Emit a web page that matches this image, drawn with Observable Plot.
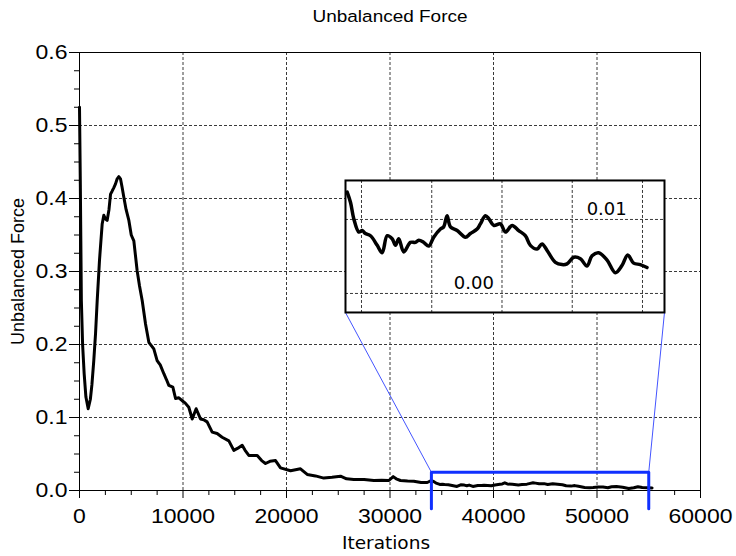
<!DOCTYPE html>
<html>
<head>
<meta charset="utf-8">
<script src="https://cdn.jsdelivr.net/npm/d3@7"></script>
<script src="https://cdn.jsdelivr.net/npm/@observablehq/plot@0.6"></script>
<style>
  html, body { margin: 0; padding: 0; background: white; }
  #chart { width: 736px; height: 556px; }
</style>
</head>
<body>
<div id="chart"></div>
<script>
// ---- data ----
const headIterations = [0, 80, 180, 300, 450, 620, 840, 1050, 1200, 1380, 1550, 1710, 1930, 2190, 2350, 2500, 2670, 2850, 3000, 3150, 3320, 3480, 3640, 3800, 3960, 4120, 4280, 4500, 4770, 5000, 5250, 5570, 5800, 6060, 6380, 6700, 7180, 7500, 7800, 8150, 8400, 8630, 9020, 9280, 9600, 9920, 10200, 10560, 10890, 11270, 11690, 12000, 12330, 12820, 13300, 13780, 14430, 14910, 15300, 15720, 16000, 16360, 17170, 17600, 17970, 18400, 18940, 19420, 20390, 21350, 22000, 22800, 23600, 24400, 25220, 25800, 26500, 27500, 28440, 29200, 29890, 30310, 30600, 31010, 31700, 32300, 33000, 33600];
const headValues     = [0.525, 0.42, 0.26, 0.2, 0.16, 0.128, 0.112, 0.125, 0.145, 0.178, 0.215, 0.26, 0.315, 0.365, 0.377, 0.372, 0.37, 0.385, 0.406, 0.41, 0.415, 0.42, 0.427, 0.43, 0.427, 0.415, 0.402, 0.385, 0.37, 0.35, 0.342, 0.301, 0.28, 0.26, 0.228, 0.203, 0.194, 0.178, 0.172, 0.16, 0.152, 0.144, 0.1415, 0.126, 0.127, 0.123, 0.12, 0.114, 0.098, 0.112, 0.098, 0.097, 0.094, 0.08, 0.078, 0.073, 0.068, 0.055, 0.058, 0.062, 0.055, 0.048, 0.048, 0.041, 0.037, 0.04, 0.041, 0.031, 0.027, 0.0297, 0.022, 0.02, 0.017, 0.018, 0.0196, 0.016, 0.015, 0.015, 0.0137, 0.014, 0.0137, 0.019, 0.016, 0.0137, 0.013, 0.0128, 0.011, 0.011];
const tailIterations = [33980, 34220, 34450, 34810, 35050, 35280, 35640, 36120, 36470, 36830, 37180, 37420, 37650, 38010, 38480, 38840, 39080, 39430, 39790, 40140, 40620, 40850, 41090, 41330, 41810, 42400, 42750, 43230, 43460, 43820, 44060, 44410, 44890, 45240, 45720, 46190, 46660, 47020, 47500, 47850, 48210, 48800, 49280, 49630, 50110, 50580, 51050, 51410, 51880, 52480, 53070, 53550, 53950, 54370, 54840, 55320];
const tailValues     = [0.0137, 0.0123, 0.0101, 0.0083, 0.0085, 0.0081, 0.0078, 0.0065, 0.0055, 0.0078, 0.0074, 0.0065, 0.0074, 0.0056, 0.0069, 0.0069, 0.0072, 0.0069, 0.0064, 0.0076, 0.0087, 0.009, 0.0105, 0.009, 0.0085, 0.0076, 0.0081, 0.0087, 0.0094, 0.0105, 0.0101, 0.0092, 0.0094, 0.0083, 0.0092, 0.0085, 0.0078, 0.0065, 0.006, 0.0067, 0.0058, 0.0042, 0.0039, 0.004, 0.0049, 0.0047, 0.0037, 0.0051, 0.0055, 0.0045, 0.0028, 0.0038, 0.0052, 0.0041, 0.0039, 0.0035];

const xTicks = [0, 10000, 20000, 30000, 40000, 50000, 60000];
const xMinorTicks = [2500, 5000, 7500, 12500, 15000, 17500, 22500, 25000, 27500, 32500, 35000, 37500, 42500, 45000, 47500, 52500, 55000, 57500];
const xGridLines = [10000, 20000, 30000, 40000, 50000];
const yTicks = [0, 0.1, 0.2, 0.3, 0.4, 0.5, 0.6];
const yMinorTicks = [0.025, 0.05, 0.075, 0.125, 0.15, 0.175, 0.225, 0.25, 0.275, 0.325, 0.35, 0.375, 0.425, 0.45, 0.475, 0.525, 0.55, 0.575];
const yGridLines = [0.1, 0.2, 0.3, 0.4, 0.5];

// zoom box (main data coords) and inset placement (main data coords)
const zoomX = [34000, 55000];
const zoomY = [-0.025, 0.025];
const insetBoxX = [25700, 56520];
const insetBoxY = [0.2438, 0.4247];
// inset scales
const insetDomainX = [33861, 56566];
const insetDomainY = [-0.00257, 0.01527];
const insetGridX = [35000, 40000, 45000, 50000, 55000];
const insetGridY = [0, 0.01];
const insetLabels = [{x: 43000, y: 0, t: "0.00"}, {x: 52450, y: 0.01, t: "0.01"}];

const title = "Unbalanced Force";
const xLabel = "Iterations";
const yLabel = "Unbalanced Force";

// ---- build tables ----
const series = headIterations.map((x, i) => ({x, y: headValues[i]}))
  .concat(tailIterations.map((x, i) => ({x, y: tailValues[i]})));
const tail = tailIterations.map((x, i) => ({x, y: tailValues[i]}));
const zoomPath = [
  {x: zoomX[0], y: zoomY[0]}, {x: zoomX[0], y: zoomY[1]},
  {x: zoomX[1], y: zoomY[1]}, {x: zoomX[1], y: zoomY[0]}
];
const connectors = [
  {x1: zoomX[0], y1: zoomY[1], x2: insetBoxX[0], y2: insetBoxY[0]},
  {x1: zoomX[1], y1: zoomY[1], x2: insetBoxX[1], y2: insetBoxY[0]}
];

const gridStyle = {stroke: "#3a3a3a", strokeOpacity: 1, strokeDasharray: "3,2", strokeWidth: 1};

const main = Plot.plot({
  width: 736, height: 556,
  marginLeft: 79, marginRight: 36, marginTop: 52, marginBottom: 66,
  x: {domain: [0, 60000]},
  y: {domain: [0, 0.6]},
  style: {fontFamily: "Liberation Sans, Arial, sans-serif", fontSize: "20px", background: "white", color: "black", overflow: "visible"},
  marks: [
    Plot.gridX(xGridLines, gridStyle),
    Plot.gridY(yGridLines, gridStyle),
    Plot.frame({stroke: "black", strokeWidth: 1}),
    Plot.axisX(xTicks, {tickSize: 8, tickPadding: 10, tickFormat: "d", label: null, fontSize: 20}),
    Plot.axisX(xMinorTicks, {tickSize: 5, text: null, label: null}),
    Plot.axisY(yTicks, {tickSize: 10, tickPadding: 2, tickFormat: ".1f", label: null, fontSize: 20}),
    Plot.axisY(yMinorTicks, {tickSize: 5, text: null, label: null}),
    Plot.line(series, {x: "x", y: "y", stroke: "black", strokeWidth: 3, strokeLinejoin: "round"}),
    Plot.link(connectors, {x1: "x1", y1: "y1", x2: "x2", y2: "y2", stroke: "#4455ff", strokeWidth: 1}),
    Plot.line(zoomPath, {x: "x", y: "y", stroke: "#1030ff", strokeWidth: 3}),
    Plot.text([title], {frameAnchor: "top", dy: -31, lineAnchor: "bottom", fontSize: 16.5, fontFamily: "Liberation Sans, Arial, sans-serif"}),
    Plot.text([yLabel], {frameAnchor: "left", dx: -61, rotate: -90, textAnchor: "middle", fontSize: 18, fontFamily: "Liberation Sans, Arial, sans-serif"}),
    Plot.text([xLabel], {frameAnchor: "bottom", dx: -4, dy: 58, lineAnchor: "bottom", fontSize: 18.5, fontFamily: "DejaVu Sans, sans-serif"})
  ]
});

// horizontal stretch of Helvetica-like labels to match the reference proportions
main.querySelectorAll("text").forEach(t => {
  const s = t.textContent;
  const tr = t.getAttribute("transform");
  if (s === xLabel || (tr && tr.includes("rotate"))) return;
  if (tr) t.setAttribute("transform", tr + " scale(1.15,1)");
});

// inset placed using the main chart's scales
const sx = main.scale("x"), sy = main.scale("y");
const ix0 = sx.apply(insetBoxX[0]), ix1 = sx.apply(insetBoxX[1]);
const iy0 = sy.apply(insetBoxY[1]), iy1 = sy.apply(insetBoxY[0]);
const iw = Math.round(ix1 - ix0), ih = Math.round(iy1 - iy0);

const inset = Plot.plot({
  width: iw, height: ih,
  margin: 0,
  x: {domain: insetDomainX, axis: null},
  y: {domain: insetDomainY, axis: null},
  style: {fontFamily: "DejaVu Sans, sans-serif", fontSize: "18px", background: "white", color: "black", overflow: "visible"},
  marks: [
    Plot.frame({fill: "white"}),
    Plot.gridX(insetGridX, gridStyle),
    Plot.gridY(insetGridY, gridStyle),
    Plot.line(tail, {x: "x", y: "y", stroke: "black", strokeWidth: 3.5, curve: "catmull-rom", strokeLinejoin: "round"}),
    Plot.text(insetLabels, {x: "x", y: "y", text: "t", dy: -4, lineAnchor: "bottom", fontSize: 18, fontFamily: "DejaVu Sans, sans-serif"}),
    Plot.frame({stroke: "black", strokeWidth: 2})
  ]
});
// move the inset's children into a translated group of the main svg
const g = document.createElementNS("http://www.w3.org/2000/svg", "g");
g.setAttribute("transform", `translate(${ix0},${iy0})`);
g.setAttribute("font-family", "DejaVu Sans, sans-serif");
g.setAttribute("font-size", "18");
const styleEl = inset.querySelector("style");
Array.from(inset.childNodes).forEach(n => { if (n !== styleEl) g.appendChild(n); });
main.appendChild(g);

document.getElementById("chart").appendChild(main);
</script>
</body>
</html>
